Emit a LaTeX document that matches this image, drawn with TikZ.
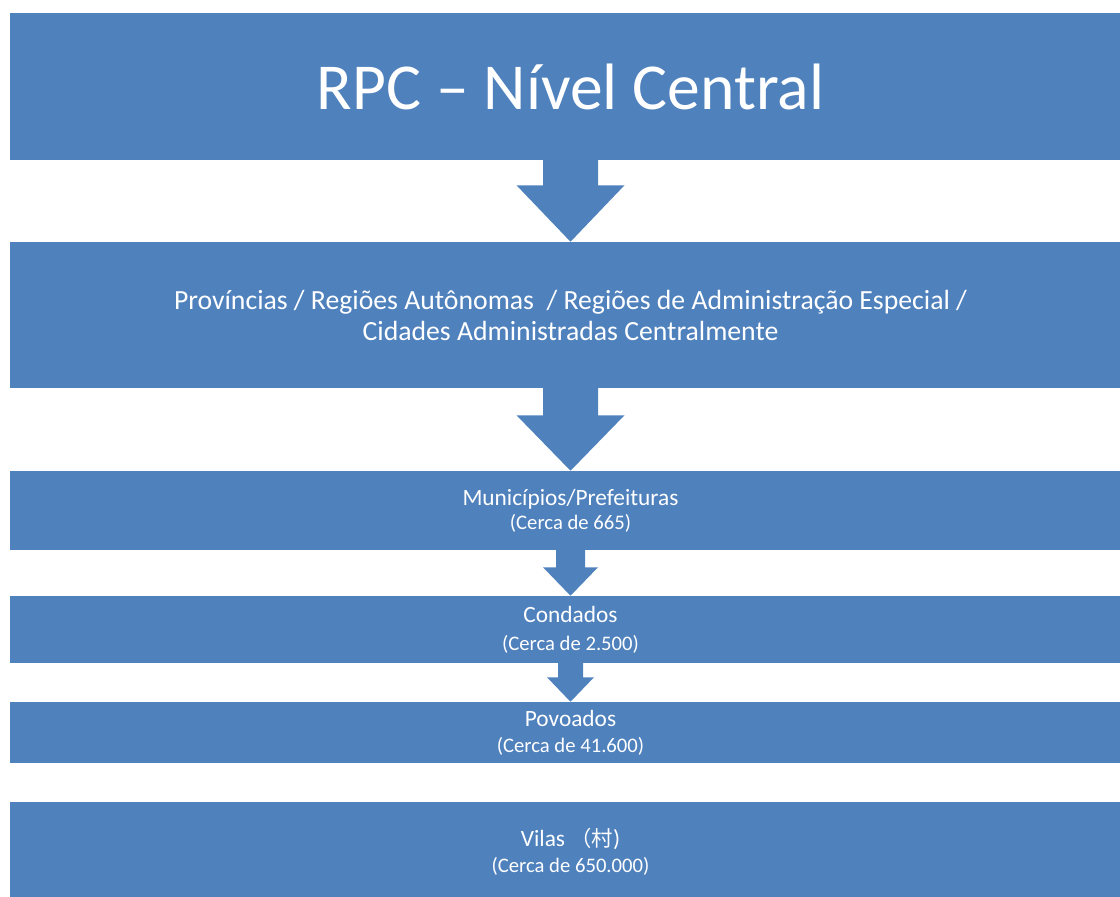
\documentclass[tikz,border=0pt]{standalone}
\usepackage{fontspec}
\setmainfont{Carlito}
\newfontfamily\cjkfont{Noto Sans CJK SC}
\usetikzlibrary{calc}
\definecolor{boxblue}{HTML}{4F81BD}
\tikzset{
  x=0.75pt, y=-0.75pt,
  tier/.style={fill=boxblue, draw=none, minimum width=840.75pt, inner sep=0pt,
    text=white, align=center, anchor=center},
  mainfont/.style={font=\fontsize{17.5}{21}\selectfont},
}
\newcommand\subline[1]{{\fontsize{15.5}{18}\selectfont #1}}
% block arrow: from, to, shaft half width, head half width, shaft length (px)
\newcommand\blkarrow[5]{%
  \fill[boxblue] ($(#1.south)+(-#3,-1)$) -- ($(#1.south)+(-#3,#5)$)
    -- ($(#1.south)+(-#4,#5)$) -- (#2.north) -- ($(#1.south)+(#4,#5)$)
    -- ($(#1.south)+(#3,#5)$) -- ($(#1.south)+(#3,-1)$) -- cycle;}
\begin{document}
\begin{tikzpicture}
\useasboundingbox (0,0) rectangle (1120,896);
\node[tier, minimum height=110.25pt, font=\fontsize{49.2}{58}\selectfont] (b1) at (570.5,86.5) {RPC – Nível Central};
\node[tier, minimum height=109.5pt, font=\fontsize{20.8}{23.25}\selectfont] (b2) at (570.5,315)
  {Províncias / Regiões Autônomas \ / Regiões de Administração Especial /\\Cidades Administradas Centralmente};
\node[tier, minimum height=59.25pt, mainfont] (b3) at (570.5,510.5)
  {Municípios/Prefeituras\\[-3pt]\subline{(Cerca de 665)}};
\node[tier, minimum height=50.25pt, mainfont] (b4) at (570.5,629.5)
  {Condados\\\subline{(Cerca de 2.500)}};
\node[tier, minimum height=45.75pt, mainfont] (b5) at (570.5,732.5)
  {Povoados\\[-1.5pt]\subline{(Cerca de 41.600)}};
\node[tier, minimum height=75pt, mainfont] (b6) at (570.5,852)
  {Vilas {\cjkfont\fontsize{16}{18}\selectfont （村}){}\\[-1.5pt]\subline{(Cerca de 650.000)}};
\blkarrow{b1}{b2}{27.5}{54}{25}
\blkarrow{b2}{b3}{27.5}{54}{27}
\blkarrow{b3}{b4}{14.5}{27.5}{17}
\blkarrow{b4}{b5}{12.5}{23.5}{14}
\end{tikzpicture}
\end{document}
